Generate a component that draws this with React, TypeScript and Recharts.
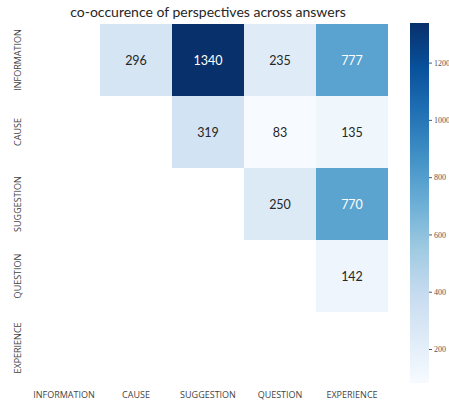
import React from "react";
import { Bar, BarChart, Cell, LabelList, XAxis, YAxis } from "recharts";

const perspectives = ["INFORMATION", "CAUSE", "SUGGESTION", "QUESTION", "EXPERIENCE"];

// rows top to bottom, columns left to right (null = masked lower triangle)
const informationRow = [null, 296, 1340, 235, 777];
const causeRow = [null, null, 319, 83, 135];
const suggestionRow = [null, null, null, 250, 770];
const questionRow = [null, null, null, null, 142];
const experienceRow = [null, null, null, null, null];

const colorbarTicks = [200, 400, 600, 800, 1000, 1200];
const vmin = 83;
const vmax = 1340;

const rows = [informationRow, causeRow, suggestionRow, questionRow, experienceRow];

// matplotlib "Blues"
const blues = ["#f7fbff", "#deebf7", "#c6dbef", "#9ecae1", "#6baed6", "#4292c6", "#2171b5", "#08519c", "#08306b"];

function hex(c: string) {
  return [1, 3, 5].map((i) => parseInt(c.slice(i, i + 2), 16));
}

function colorFor(v: number) {
  let t = (v - vmin) / (vmax - vmin);
  t = Math.max(0, Math.min(1, t));
  const p = t * (blues.length - 1);
  const i = Math.min(Math.floor(p), blues.length - 2);
  const f = p - i;
  const a = hex(blues[i]);
  const b = hex(blues[i + 1]);
  const m = a.map((x, k) => Math.round(x + (b[k] - x) * f));
  return `rgb(${m[0]},${m[1]},${m[2]})`;
}

const data = perspectives.map((col, j) => {
  const d: any = { col };
  perspectives.forEach((row, i) => {
    d[row] = 1;
    d[row + "_v"] = rows[i][j];
  });
  return d;
});

const colorbarData = [{ name: "cb", range: [vmin, vmax] }];

const YTick = (props: any) => {
  const { x, y, payload } = props;
  return (
    <text
      x={x + 1}
      y={y}
      transform={`rotate(-90, ${x + 1}, ${y})`}
      textAnchor="middle"
      fill="#444"
      fontSize={9}
      fontFamily="Open Sans"
    >
      {perspectives[Math.floor(payload.value)]}
    </text>
  );
};

const CellLabel = (props: any) => {
  const { x, y, width, height, value } = props;
  if (value === null || value === undefined) return null;
  const t = (value - vmin) / (vmax - vmin);
  return (
    <text
      x={x + width / 2}
      y={y + height / 2}
      textAnchor="middle"
      dominantBaseline="central"
      fontSize={12.5}
      fontFamily="Lato"
      fill={t > 0.5 ? "#ffffff" : "#262626"}
    >
      {value}
    </text>
  );
};

export default function App() {
  return (
    <div style={{ position: "absolute", left: 0, top: 0, width: 449, height: 400, background: "#fff" }}>
      <div
        style={{
          position: "absolute",
          left: 28,
          width: 360,
          top: 3,
          textAlign: "center",
          fontFamily: "Lato",
          fontSize: 14,
          color: "#262626",
        }}
      >
        co-occurence of perspectives across answers
      </div>
      <div style={{ position: "absolute", left: 0, top: 0 }}>
        <BarChart
          width={449}
          height={400}
          data={data}
          margin={{ top: 24, right: 61, bottom: 0, left: 8 }}
          barCategoryGap={0}
          barGap={0}
        >
          <XAxis
            dataKey="col"
            type="category"
            axisLine={false}
            tickLine={false}
            height={16}
            interval={0}
            tick={{ fontSize: 9, fill: "#444", fontFamily: "Open Sans" }}
          />
          <YAxis
            type="number"
            domain={[0, 5]}
            reversed
            width={20}
            ticks={[0.5, 1.5, 2.5, 3.5, 4.5]}
            axisLine={false}
            tickLine={false}
            tick={<YTick />}
            interval={0}
          />
          {perspectives.map((row, i) => (
            <Bar key={row} dataKey={row} stackId="m" isAnimationActive={false}>
              {data.map((d, j) => (
                <Cell key={j} fill={rows[i][j] === null ? "none" : colorFor(rows[i][j] as number)} />
              ))}
              <LabelList dataKey={row + "_v"} content={<CellLabel />} />
            </Bar>
          ))}
        </BarChart>
      </div>
      <div style={{ position: "absolute", left: 0, top: 0 }}>
        <BarChart
          width={449}
          height={400}
          data={colorbarData}
          margin={{ top: 23, right: 0, bottom: 17, left: 410 }}
          barCategoryGap={0}
        >
          <defs>
            <linearGradient id="cbGrad" x1="0" y1="1" x2="0" y2="0">
              {blues.map((c, k) => (
                <stop key={k} offset={`${(k / (blues.length - 1)) * 100}%`} stopColor={c} />
              ))}
            </linearGradient>
          </defs>
          <XAxis dataKey="name" hide />
          <YAxis
            orientation="right"
            type="number"
            domain={[vmin, vmax]}
            ticks={colorbarTicks}
            width={20}
            axisLine={false}
            tickLine={{ stroke: "#555" }}
            tickSize={3}
            tick={{ fontSize: 8, fill: "#555", fontFamily: "Liberation Serif" }}
            interval={0}
          />
          <Bar dataKey="range" fill="url(#cbGrad)" isAnimationActive={false} />
        </BarChart>
      </div>
    </div>
  );
}
